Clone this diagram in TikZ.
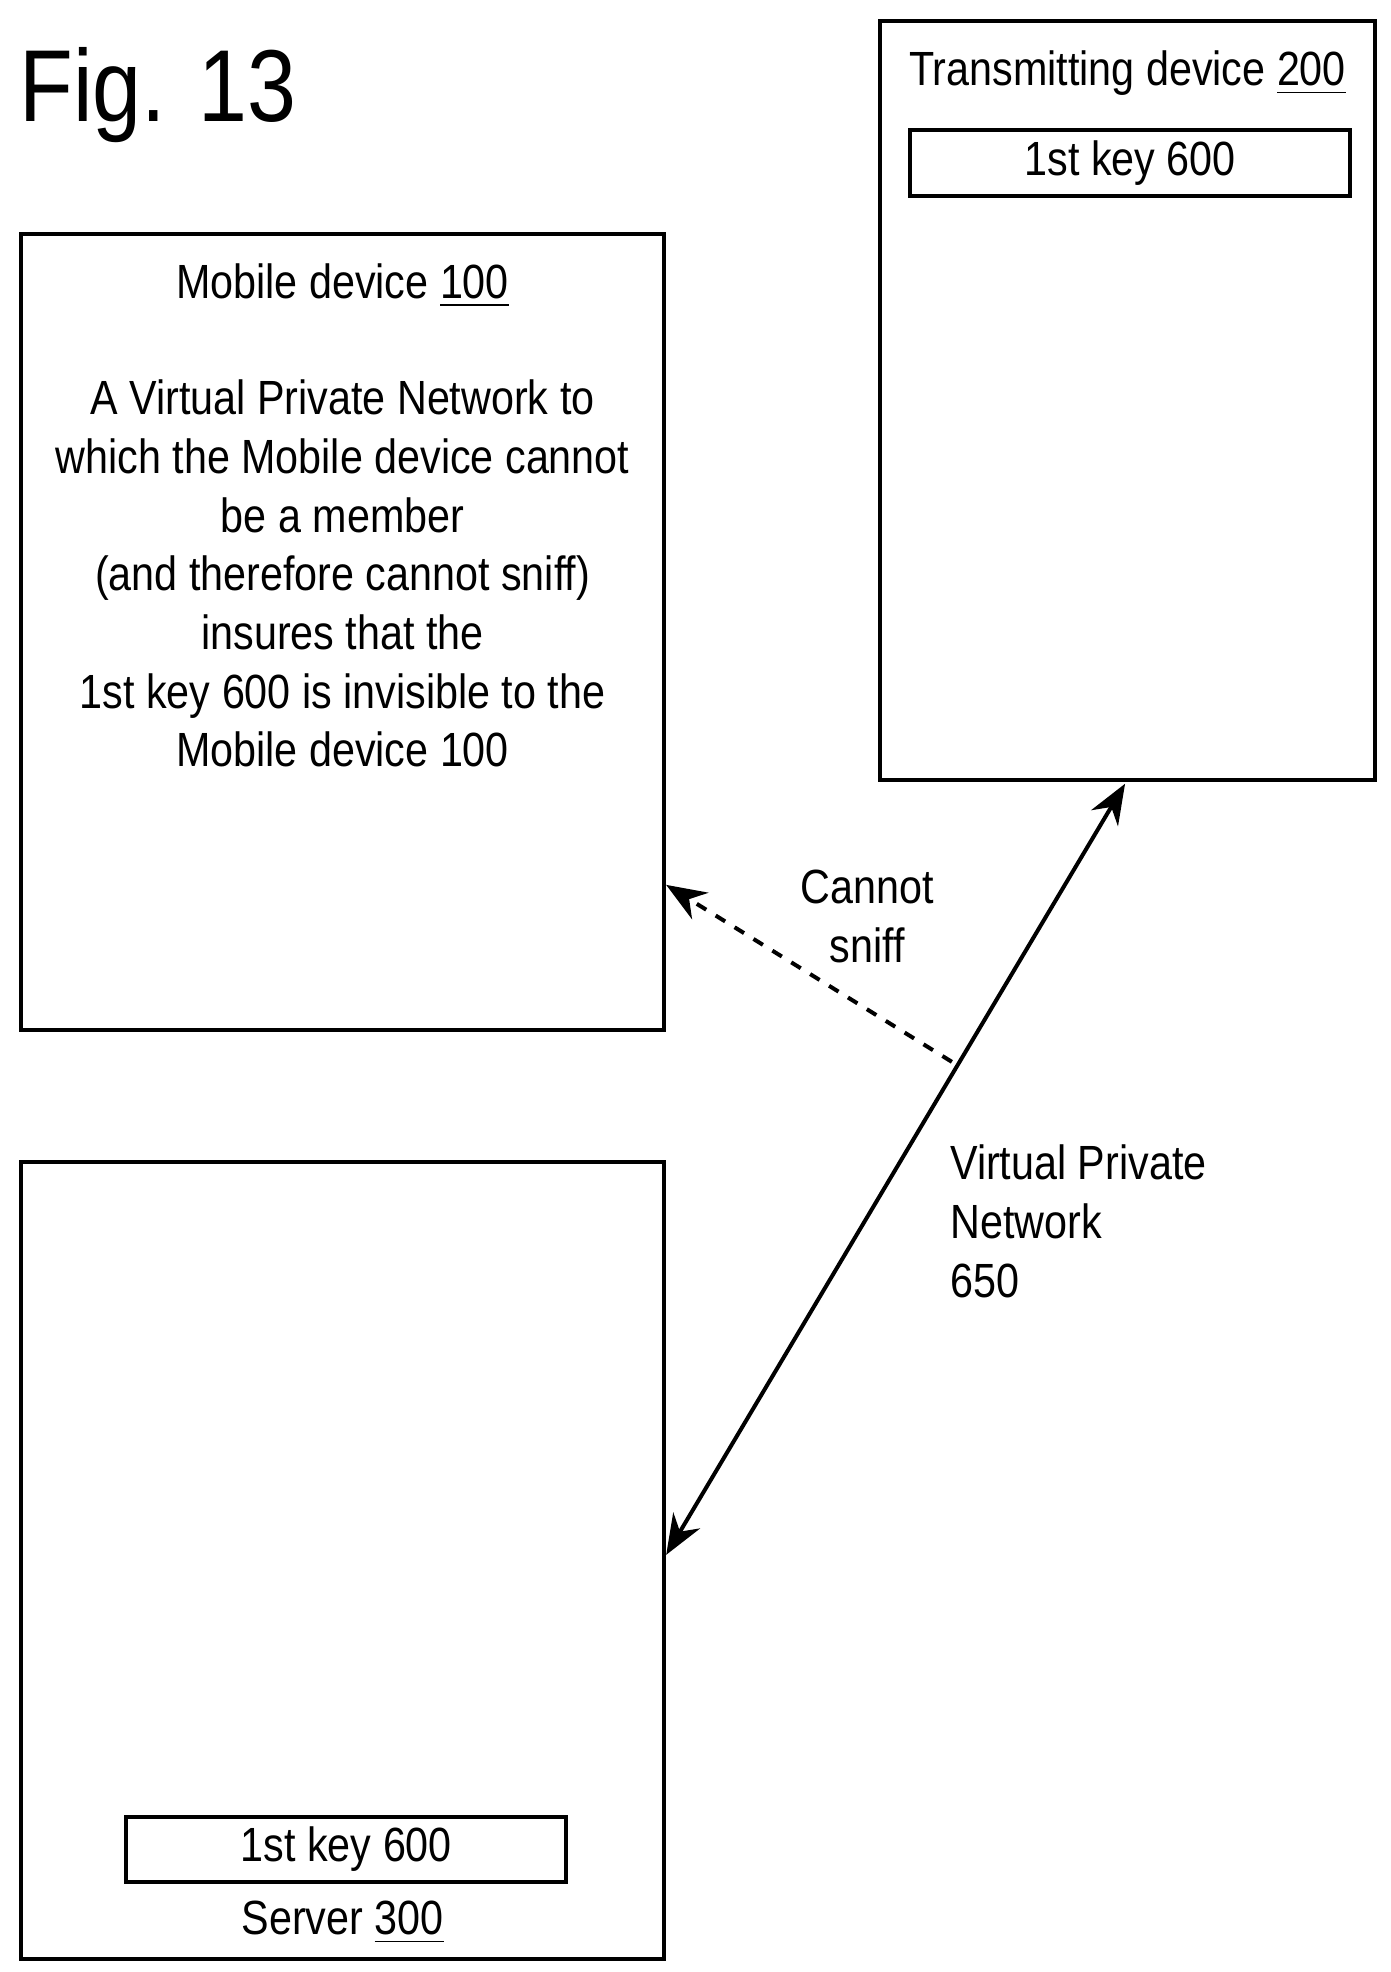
\documentclass[tikz,border=0pt]{standalone}
\usepackage{fontspec}
\setmainfont{Liberation Sans}[FakeStretch=0.86]
\usetikzlibrary{arrows.meta}
\begin{document}
\begin{tikzpicture}[x=0.01cm,y=-0.01cm,
  box/.style={draw,line width=0.9pt},
  txt/.style={font=\fontsize{10.8pt}{13.2pt}\selectfont,inner sep=0pt,align=center},
  arr/.style={-{Stealth[length=9pt,width=7pt]},line width=0.9pt}]
\useasboundingbox (0,0) rectangle (1100,1560);
\node[inner sep=0pt,font=\fontsize{23pt}{28pt}\selectfont] (fig) at (125,75) {Fig. 13};
\draw[box] (696,17) rectangle (1088,617);
\coordinate (tA) at (890,620);
\node[txt] (t) at (892,58) {Transmitting device \underline{200}};
\draw[box] (720,103) rectangle (1068,155);
\node[txt] (k1) at (894,129) {1st key 600};
\draw[box] (17,185) rectangle (525,815);
\node[txt] (m) at (271,226) {Mobile device \underline{100}};
\node[txt,anchor=north] (mt) at (271,300) {A Virtual Private Network to\\which the Mobile device cannot\\be a member\\(and therefore cannot sniff)\\insures that the\\1st key 600 is invisible to the\\Mobile device 100};
\coordinate (mA) at (527,700);
\draw[box] (17,919) rectangle (525,1550);
\draw[box] (100,1437) rectangle (448,1489);
\node[txt] (k2) at (274,1463) {1st key 600};
\node[txt] (s) at (271,1521) {Server \underline{300}};
\coordinate (sA) at (527,1230);
\draw[arr,{Stealth[length=9pt,width=7pt]}-{Stealth[length=9pt,width=7pt]}] (tA) -- (sA);
\coordinate (d) at (753,840);
\draw[arr,dash pattern=on 2.5pt off 2.5pt] (d) -- (mA);
\node[txt] (cs) at (686,725) {Cannot\\sniff};
\node[txt,align=left,anchor=north west] (vpn) at (751,905) {Virtual Private\\Network\\650};
\end{tikzpicture}
\end{document}
